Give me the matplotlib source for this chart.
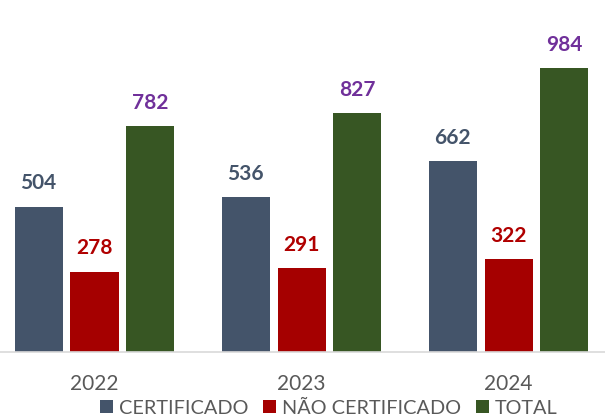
import matplotlib.pyplot as plt
import numpy as np

plt.rcParams['font.family'] = ['Lato', 'DejaVu Sans']

# Data
years = ['2022', '2023', '2024']
certificado = [504, 536, 662]
nao_certificado = [278, 291, 322]
total = [782, 827, 984]

series = [
    ('CERTIFICADO', certificado, '#44546A', '#44546A'),
    ('NÃO CERTIFICADO', nao_certificado, '#A50000', '#B00000'),
    ('TOTAL', total, '#375623', '#70309A'),
]

fig = plt.figure(figsize=(6.05, 4.17), dpi=100)
ax = fig.add_axes([0, 65 / 417, 1, 352 / 417])

x = np.arange(len(years))
width = 0.232
offsets = [-0.27, 0, 0.27]

for (name, vals, color, lab_color), off in zip(series, offsets):
    bars = ax.bar(x + off, vals, width, color=color, label=name, zorder=2)
    for b, v in zip(bars, vals):
        ax.annotate(str(v), (b.get_x() + b.get_width() / 2, v),
                    xytext=(0, 12.5), textcoords='offset points',
                    ha='center', va='baseline', fontsize=15,
                    fontweight='bold', color=lab_color)

ax.set_xlim(-0.4565, 2.466)
ax.set_ylim(0, 1220)
ax.set_xticks(x)
ax.set_xticklabels(years, fontsize=15, color='#595959')
ax.tick_params(axis='x', length=0, pad=16)
ax.set_yticks([])
for s in ['top', 'right', 'left']:
    ax.spines[s].set_visible(False)
ax.spines['bottom'].set_color('#D9D9D9')
ax.spines['bottom'].set_linewidth(1.2)

leg = fig.legend(loc='center', bbox_to_anchor=(329 / 605, 1 - 408 / 417),
                 ncol=3, frameon=False, fontsize=14.3, handlelength=0.65,
                 handleheight=0.65, handletextpad=0.3, columnspacing=0.75,
                 borderpad=0)
for t in leg.get_texts():
    t.set_color('#595959')

fig.savefig('out.png', dpi=100)
